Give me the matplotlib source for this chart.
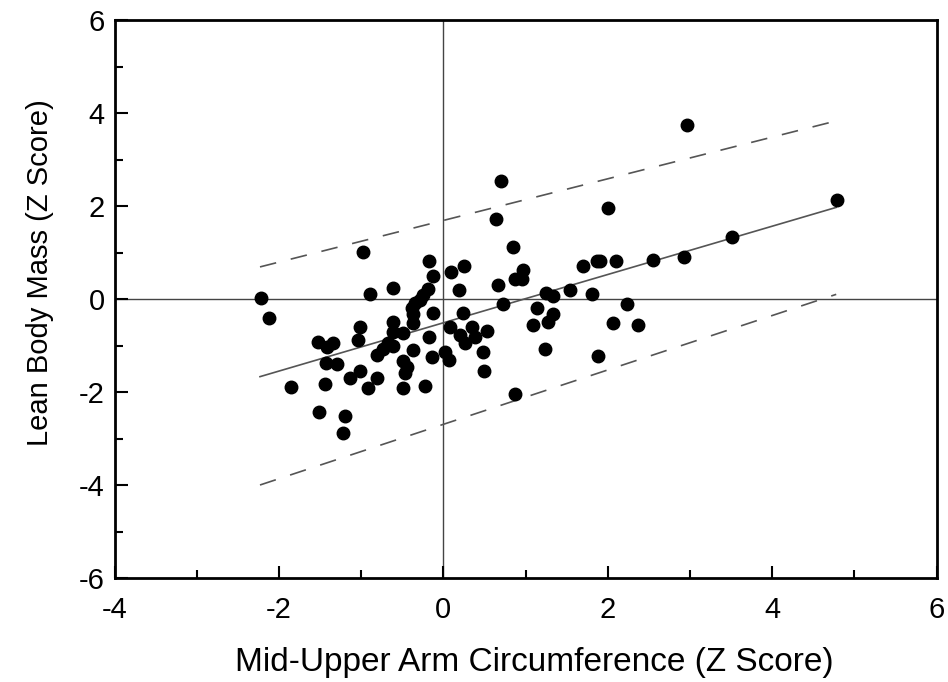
import numpy as np
import matplotlib
matplotlib.use("Agg")
import matplotlib.pyplot as plt
from matplotlib.ticker import MultipleLocator

plt.rcParams["font.family"] = ["Liberation Sans", "DejaVu Sans"]
plt.rcParams["axes.unicode_minus"] = False

# ---------------------------------------------------------
# DATA
# ---------------------------------------------------------
muac_z = [
    -2.22, -2.12, -1.85, -1.52, -1.34, -1.41, -1.43, -1.29, -1.44, -1.51,
    -1.20, -1.22, -1.14, -1.01, -1.04, -1.01, -0.98, -0.89, -0.61, -0.61,
    -0.61, -0.49, -0.67, -0.73, -0.61, -0.81, -0.81, -0.92, -0.49, -0.44,
    -0.47, -0.49, -0.37, -0.22, -0.14, -0.17, -0.37, -0.37, -0.38, -0.34,
    -0.28, -0.25, -0.19, -0.13, -0.17, -0.13,
    0.02, 0.07, 0.08, 0.09, 0.19, 0.24, 0.25, 0.35, 0.20, 0.39,
    0.26, 0.53, 0.48, 0.50, 0.64, 0.70, 0.85, 0.67, 0.87, 0.97,
    0.96, 0.73, 0.87, 1.09, 1.14, 1.25, 1.33, 1.33, 1.27, 1.24,
    1.54, 1.70, 1.87, 1.91, 2.10, 1.81, 1.88, 2.00, 2.06, 2.23,
    2.37, 2.55, 2.93, 2.96, 3.51, 4.79,
]
lbm_z = [
    0.02, -0.41, -1.89, -0.92, -0.95, -1.03, -1.38, -1.40, -1.83, -2.43,
    -2.52, -2.88, -1.70, -1.55, -0.88, -0.60, 1.01, 0.11, 0.24, -0.49,
    -0.71, -0.73, -0.95, -1.08, -1.01, -1.20, -1.70, -1.91, -1.33, -1.46,
    -1.59, -1.91, -1.10, -1.87, -1.25, -0.82, -0.52, -0.32, -0.19, -0.09,
    -0.02, 0.09, 0.22, -0.30, 0.82, 0.49,
    -1.14, -1.31, -0.60, 0.58, 0.19, -0.30, 0.71, -0.60, -0.77, -0.82,
    -0.95, -0.69, -1.14, -1.55, 1.72, 2.54, 1.12, 0.30, 0.43, 0.62,
    0.43, -0.11, -2.04, -0.56, -0.19, 0.13, 0.06, -0.32, -0.49, -1.08,
    0.19, 0.71, 0.82, 0.82, 0.82, 0.11, -1.23, 1.96, -0.52, -0.11,
    -0.56, 0.84, 0.90, 3.74, 1.33, 2.13,
]

# regression line and prediction limits (end points)
line_x = [-2.23, 4.78]
fit_y = [-1.67, 1.97]
upper_y = [0.69, 3.83]
lower_y = [-4.00, 0.10]

# ---------------------------------------------------------
# PLOT
# ---------------------------------------------------------
fig = plt.figure(figsize=(9.48, 6.82), dpi=100)
ax = fig.add_axes([114.5 / 948, 1 - 578 / 682, 822 / 948, 558 / 682])

ax.axhline(0, color="#444444", lw=1.0, zorder=1)
ax.axvline(0, color="#444444", lw=1.0, zorder=1)

ax.plot(line_x, fit_y, color="#555555", lw=1.2, zorder=2)
ax.plot(line_x, upper_y, color="#555555", lw=1.2, dashes=(10, 9), zorder=2)
ax.plot(line_x, lower_y, color="#555555", lw=1.2, dashes=(10, 9), zorder=2)

ax.plot(muac_z, lbm_z, "o", color="black", markersize=9, zorder=3)

ax.set_xlim(-4, 6)
ax.set_ylim(-6, 6)
ax.xaxis.set_major_locator(MultipleLocator(2))
ax.xaxis.set_minor_locator(MultipleLocator(1))
ax.yaxis.set_major_locator(MultipleLocator(2))
ax.yaxis.set_minor_locator(MultipleLocator(1))

ax.tick_params(which="both", direction="in", top=False, right=False,
               width=1.5, labelsize=21)
ax.tick_params(which="major", length=9)
ax.tick_params(which="minor", length=6)
ax.tick_params(axis="x", pad=13)
ax.tick_params(axis="y", pad=7)

for side in ax.spines.values():
    side.set_linewidth(2.0)

ax.set_xlabel("Mid-Upper Arm Circumference (Z Score)", fontsize=24, va="center")
ax.set_ylabel("Lean Body Mass (Z Score)", fontsize=21, va="center")
ax.xaxis.set_label_coords(0.511, -0.152)
ax.yaxis.set_label_coords(-0.091, 0.548)

fig.savefig("out.png", dpi=100)
